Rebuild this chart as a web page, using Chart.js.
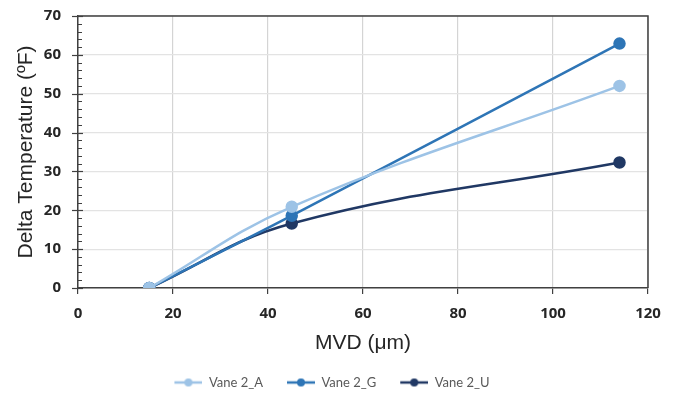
<!DOCTYPE html>
<html>
<head>
<meta charset="utf-8">
<script src="https://cdn.jsdelivr.net/npm/chart.js@4.4.1/dist/chart.umd.min.js"></script>
<style>
html,body{margin:0;padding:0;background:#fff;}
#wrap{width:679px;height:395px;position:relative;}
</style>
</head>
<body>
<div id="wrap"><canvas id="c" width="679" height="395"></canvas></div>
<script>
const seriesNames = ['Vane 2_A', 'Vane 2_G', 'Vane 2_U'];
const mvd = [15, 45, 114];
const vaneA = [0, 20.9, 52.0];
const vaneG = [0, 18.6, 62.9];
const vaneU = [0, 16.6, 32.3];
const colors = ['#9DC3E6', '#2E75B6', '#203864'];
const xTicks = [0, 20, 40, 60, 80, 100, 120];
const yTicks = [0, 10, 20, 30, 40, 50, 60, 70];

const seriesValues = [vaneA, vaneG, vaneU];

function legendIcon(color) {
  const cv = document.createElement('canvas');
  cv.width = 44; cv.height = 10;
  const g = cv.getContext('2d');
  g.strokeStyle = color; g.lineWidth = 2.5;
  g.beginPath(); g.moveTo(16, 5); g.lineTo(44, 5); g.stroke();
  g.fillStyle = color;
  g.beginPath(); g.arc(30, 5, 4, 0, Math.PI * 2); g.fill();
  return cv;
}

const datasets = seriesNames.map((name, i) => ({
  label: name,
  data: mvd.map((x, j) => ({x: x, y: seriesValues[i][j]})),
  borderColor: colors[i],
  backgroundColor: colors[i],
  borderWidth: 2.5,
  pointRadius: 5,
  pointHoverRadius: 5,
  tension: 0.4,
  fill: false
}));

const frameAndMinor = {
  id: 'frameAndMinor',
  afterDraw(chart) {
    const ctx = chart.ctx;
    const a = chart.chartArea;
    const ys = chart.scales.y;
    ctx.save();
    ctx.strokeStyle = '#404040';
    ctx.lineWidth = 1.5;
    ctx.beginPath();
    ctx.moveTo(a.left, a.top); ctx.lineTo(a.right, a.top); ctx.lineTo(a.right, a.bottom);
    ctx.stroke();
    ctx.lineWidth = 1;
    for (let v = 0; v <= 70; v += 2) {
      if (v % 10 === 0) continue;
      const py = Math.round(ys.getPixelForValue(v)) + 0.5;
      ctx.beginPath(); ctx.moveTo(a.left, py); ctx.lineTo(a.left + 4, py); ctx.stroke();
    }
    ctx.lineWidth = 1.2;
    for (const v of yTicks) {
      const py = Math.round(ys.getPixelForValue(v)) + 0.5;
      ctx.beginPath(); ctx.moveTo(a.left - 6, py); ctx.lineTo(a.left + 5, py); ctx.stroke();
    }
    ctx.restore();
  }
};

new Chart(document.getElementById('c'), {
  type: 'line',
  data: { datasets: datasets },
  plugins: [frameAndMinor],
  options: {
    responsive: false,
    animation: false,
    layout: { padding: { top: 16, right: 31, left: 0, bottom: -4 } },
    plugins: {
      tooltip: { enabled: false },
      legend: {
        position: 'bottom',
        labels: {
          color: '#595959',
          font: { family: 'Lato', size: 13 },
          boxWidth: 44,
          boxHeight: 10,
          pointStyleWidth: 44,
          padding: 8,
          usePointStyle: true,
          generateLabels(chart) {
            return chart.data.datasets.map((d, i) => ({
              text: d.label,
              pointStyle: legendIcon(d.borderColor),
              fillStyle: d.borderColor,
              strokeStyle: d.borderColor,
              lineWidth: 0,
              datasetIndex: i,
              fontColor: '#595959'
            }));
          }
        }
      }
    },
    scales: {
      x: {
        type: 'linear',
        min: 0, max: 120,
        afterBuildTicks(s) { s.ticks = xTicks.map(v => ({value: v})); },
        grid: { color: '#d4d4d4', lineWidth: 1.2, tickColor: '#404040', tickLength: 6, drawTicks: true },
        border: { color: '#404040', width: 1.5 },
        ticks: { color: '#262626', font: { family: 'Open Sans', size: 15, weight: 'bold' }, padding: 11, maxRotation: 0 },
        title: { display: true, text: 'MVD (μm)', color: '#262626', font: { family: 'Liberation Sans', size: 21 }, padding: { top: 0, bottom: 12 } },
        afterFit(s) { s.height = 80; }
      },
      y: {
        type: 'linear',
        min: 0, max: 70,
        afterBuildTicks(s) { s.ticks = yTicks.map(v => ({value: v})); },
        grid: { color: '#e3e3e3', lineWidth: 1.2, tickColor: 'rgba(0,0,0,0)', tickLength: 13 },
        border: { color: '#404040', width: 1.5 },
        ticks: { color: '#262626', font: { family: 'Open Sans', size: 15, weight: 'bold' }, padding: 4 },
        title: { display: true, text: 'Delta Temperature (ºF)', color: '#262626', font: { family: 'Liberation Sans', size: 21 }, padding: { top: 14, bottom: 4 } },
        afterFit(s) { s.width = 78; }
      }
    }
  }
});
</script>
</body>
</html>
